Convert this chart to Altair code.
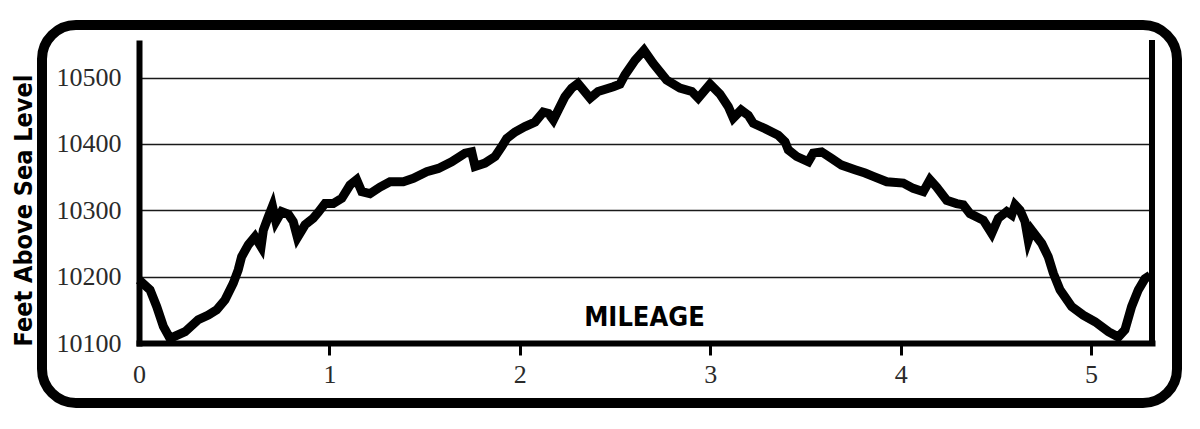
import altair as alt
import pandas as pd

# Elevation profile (miles, feet above sea level)
miles = [0.000, 0.058, 0.093, 0.128, 0.163, 0.242, 0.311, 0.364, 0.408, 0.452,
         0.495, 0.521, 0.539, 0.574, 0.609, 0.641, 0.653, 0.679, 0.701, 0.719,
         0.749, 0.784, 0.810, 0.832, 0.872, 0.915, 0.942, 0.977, 1.020, 1.065,
         1.108, 1.143, 1.170, 1.213, 1.266, 1.318, 1.388, 1.441, 1.511, 1.572,
         1.642, 1.712, 1.747, 1.765, 1.817, 1.870, 1.905, 1.931, 1.975, 2.027,
         2.080, 2.123, 2.150, 2.176, 2.202, 2.237, 2.272, 2.305, 2.369, 2.411,
         2.491, 2.526, 2.552, 2.605, 2.652, 2.701, 2.771, 2.841, 2.903, 2.937,
         2.999, 3.051, 3.095, 3.121, 3.162, 3.200, 3.226, 3.288, 3.357, 3.393,
         3.410, 3.454, 3.515, 3.541, 3.585, 3.638, 3.690, 3.760, 3.813, 3.856,
         3.927, 4.014, 4.066, 4.119, 4.154, 4.189, 4.242, 4.294, 4.329, 4.364,
         4.434, 4.478, 4.513, 4.557, 4.583, 4.601, 4.627, 4.653, 4.670, 4.688,
         4.741, 4.775, 4.802, 4.837, 4.898, 4.959, 5.021, 5.091, 5.143, 5.178,
         5.213, 5.248, 5.283, 5.310]
elevation = [10195, 10180, 10155, 10125, 10107, 10117, 10135, 10142, 10150, 10165,
             10190, 10210, 10230, 10248, 10260, 10245, 10270, 10290, 10306, 10283,
             10298, 10294, 10283, 10259, 10278, 10288, 10297, 10310, 10310, 10318,
             10338, 10346, 10328, 10325, 10335, 10343, 10343, 10348, 10358, 10363,
             10373, 10386, 10388, 10366, 10371, 10381, 10396, 10408, 10418, 10426,
             10433, 10448, 10446, 10436, 10451, 10471, 10484, 10491, 10469, 10479,
             10486, 10490, 10504, 10526, 10541, 10521, 10496, 10484, 10479, 10469,
             10490, 10475, 10456, 10439, 10451, 10443, 10431, 10423, 10413, 10403,
             10391, 10381, 10373, 10386, 10388, 10378, 10368, 10361, 10356, 10351,
             10343, 10341, 10333, 10328, 10346, 10335, 10315, 10310, 10308, 10295,
             10285, 10265, 10288, 10298, 10293, 10308, 10300, 10283, 10255, 10270,
             10250, 10230, 10205, 10180, 10155, 10142, 10132, 10117, 10109, 10120,
             10155, 10180, 10197, 10202]

y_ticks = [10100, 10200, 10300, 10400, 10500]
x_ticks = [0, 1, 2, 3, 4, 5]

df = pd.DataFrame({"mile": miles, "elev": elevation})

W, H = 1013, 300

line = alt.Chart(df).mark_line(
    color="black", strokeWidth=9, strokeJoin="miter", strokeMiterLimit=6
).encode(
    x=alt.X(
        "mile:Q",
        scale=alt.Scale(domain=[0, 5.32], nice=False, zero=False),
        axis=alt.Axis(
            values=x_ticks,
            format="d",
            title="MILEAGE",
            titleFont="DejaVu Sans Condensed",
            titleFontSize=27,
            titleFontWeight="bold",
            titleColor="black",
            titleX=505,
            titleY=-18,
            titleAlign="center",
            titleBaseline="alphabetic",
            grid=False,
            domainColor="black",
            domainWidth=6,
            domainCap="square",
            tickColor="black",
            tickWidth=3,
            tickSize=12,
            tickOpacity={"condition": {"test": "datum.value === 0", "value": 0}, "value": 1},
            labelFont="Liberation Serif",
            labelFontSize=26,
            labelColor="#2a2a2a",
            labelPadding=6,
            labelFlush=False,
        ),
    ),
    y=alt.Y(
        "elev:Q",
        scale=alt.Scale(domain=[10100, 10552], nice=False, zero=False),
        axis=alt.Axis(
            values=y_ticks,
            format="d",
            title="Feet Above Sea Level",
            titleFont="DejaVu Sans Condensed",
            titleFontSize=25,
            titleFontWeight="bold",
            titleColor="black",
            titleAngle=270,
            titleX=-108,
            titleY=167,
            titleAlign="center",
            titleBaseline="alphabetic",
            grid=True,
            gridColor="#1a1a1a",
            gridWidth=1.6,
            ticks=False,
            domainColor="black",
            domainWidth=6,
            domainCap="square",
            labelFont="Liberation Serif",
            labelFontSize=26,
            labelColor="#2a2a2a",
            labelPadding=18,
            labelFlush=False,
        ),
    ),
)

one = pd.DataFrame({"k": [0]})

right_rule = alt.Chart(one).mark_rule(
    color="black", strokeWidth=6, strokeCap="square"
).encode(x=alt.value(W), y=alt.value(0), y2=alt.value(H))

frame = alt.Chart(one).mark_rect(
    fill="transparent", stroke="black", strokeWidth=10, cornerRadius=34
).encode(
    x=alt.value(-97), x2=alt.value(1038), y=alt.value(-18), y2=alt.value(360)
)

chart = alt.layer(line, right_rule, frame).properties(
    width=W,
    height=H,
    padding={"left": 131, "top": 35, "right": 40, "bottom": 70},
    autosize=alt.AutoSizeParams(type="none"),
    background="white",
).configure_view(stroke="transparent")

chart.save("out.html", embed_options={"renderer": "svg", "actions": False})
